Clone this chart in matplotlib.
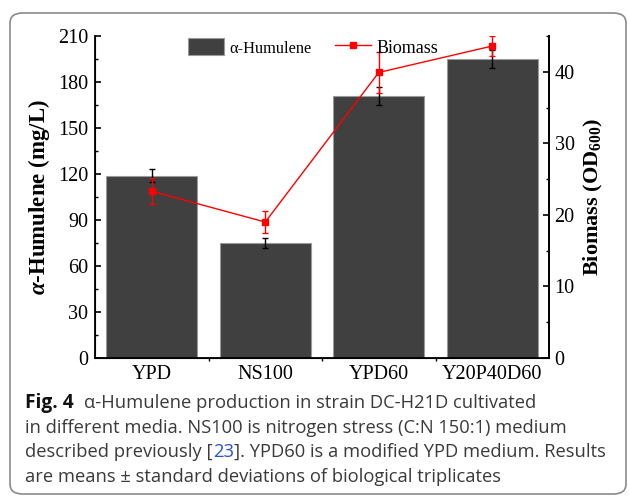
import numpy as np
import matplotlib
matplotlib.use("Agg")
import matplotlib.pyplot as plt
from matplotlib.patches import FancyBboxPatch, Patch
from matplotlib.lines import Line2D

media = ["YPD", "NS100", "YPD60", "Y20P40D60"]
humulene = [119, 75, 171, 195]
humulene_sd = [4.3, 3, 6, 6]
biomass = [23.3, 19.0, 39.9, 43.6]
biomass_sd = [1.8, 1.6, 2.8, 1.4]

serif = "Liberation Serif"
plt.rcParams["mathtext.fontset"] = "custom"
plt.rcParams["mathtext.rm"] = serif
plt.rcParams["mathtext.it"] = serif + ":italic:bold"
plt.rcParams["mathtext.bf"] = serif + ":bold"

W, H = 629, 498
fig = plt.figure(figsize=(W / 100, H / 100), dpi=100)

# rounded frame around figure + caption
frame = FancyBboxPatch((10 / W, 4 / H), 616 / W, 481 / H,
                       boxstyle="round,pad=0,rounding_size=0.02",
                       transform=fig.transFigure, fill=False,
                       edgecolor="#8a8a8a", lw=1.2)
fig.patches.append(frame)

ax = fig.add_axes([95 / W, 1 - 358 / H, 454 / W, 322 / H])
x = np.arange(len(media))
ax.bar(x, humulene, width=0.8, color="#404040", edgecolor="#9a9a9a", lw=0.8, zorder=2)
ax.errorbar(x, humulene, yerr=humulene_sd, fmt="none", ecolor="black",
            elinewidth=1, capsize=2.5, capthick=1, zorder=3)
ax.set_xlim(-0.5, 3.5)
ax.set_ylim(0, 210)
ax.set_yticks(np.arange(0, 211, 30))
ax.set_yticks(np.arange(15, 211, 30), minor=True)
ax.set_xticks(x)
ax.set_xticklabels(media)
ax.set_xticks([0.5, 1.5, 2.5], minor=True)

for lab in ax.get_xticklabels() + ax.get_yticklabels():
    lab.set_family(serif)
    lab.set_fontsize(14.5)
ax.tick_params(axis="y", which="major", direction="in", length=4.5, width=1.2, pad=5)
ax.tick_params(axis="y", which="minor", direction="in", length=2.5, width=1.0)
ax.tick_params(axis="x", which="major", length=0, pad=5)
ax.tick_params(axis="x", which="minor", direction="out", length=2.5, width=1.0)
ax.spines["top"].set_visible(False)
for s in ["left", "bottom", "right"]:
    ax.spines[s].set_linewidth(1.3)
ax.set_ylabel(r"$\alpha$-Humulene (mg/L)", family=serif, fontsize=16.5,
              fontweight="bold", labelpad=4)

ax2 = ax.twinx()
ax2.errorbar(x, biomass, yerr=biomass_sd, color="red", lw=1, marker="s",
             markersize=5, ecolor="red", elinewidth=1, capsize=2.5, capthick=1, zorder=4)
ax2.set_ylim(0, 45)
ax2.set_yticks([0, 10, 20, 30, 40])
ax2.set_yticks([5, 15, 25, 35, 45], minor=True)
ax2.tick_params(axis="y", which="major", direction="in", length=4.5, width=1.2, pad=4)
ax2.tick_params(axis="y", which="minor", direction="in", length=2.5, width=1.0)
for lab in ax2.get_yticklabels():
    lab.set_family(serif)
    lab.set_fontsize(14.5)
ax2.spines["top"].set_visible(False)
ax2.spines["right"].set_linewidth(1.3)
ax2.set_ylabel(r"Biomass (OD$_{\mathbf{600}}$)", family=serif, fontsize=16,
               fontweight="bold", labelpad=5)

handles = [Patch(facecolor="#404040", edgecolor="#9a9a9a", lw=0.8),
           Line2D([0], [0], color="red", lw=1, marker="s", markersize=5)]
leg = ax2.legend(handles, ["α-Humulene", "Biomass"], loc="upper center",
                 bbox_to_anchor=(0.48, 1.045), ncol=2, frameon=False,
                 prop={"family": serif, "size": 13}, handlelength=2.0,
                 handleheight=1.1, handletextpad=0.3, columnspacing=1.3)
leg.get_texts()[0].set_fontsize(11.8)

# caption
cap_font = "Open Sans"
fs = 13.2
def fy(py):
    return 1 - py / H

fig.text(25 / W, fy(403), "Fig. 4", family=cap_font, fontweight="bold",
         fontsize=fs + 0.6, va="center", color="#111111")
fig.text(84 / W, fy(403), "α-Humulene production in strain DC-H21D cultivated",
         family=cap_font, fontsize=fs, va="center", color="#3a3a3a")
fig.text(25 / W, fy(428), "in different media. NS100 is nitrogen stress (C:N 150:1) medium",
         family=cap_font, fontsize=fs, va="center", color="#3a3a3a")
t1 = fig.text(25 / W, fy(452), "described previously [", family=cap_font,
              fontsize=fs, va="center", color="#3a3a3a")
r = fig.canvas.get_renderer()
x1 = t1.get_window_extent(r).x1
t2 = fig.text(x1 / W, fy(452), "23", family=cap_font, fontsize=fs,
              va="center", color="#2a4fd6")
x2 = t2.get_window_extent(r).x1
fig.text(x2 / W, fy(452), "]. YPD60 is a modified YPD medium. Results",
         family=cap_font, fontsize=fs, va="center", color="#3a3a3a")
fig.text(25 / W, fy(477), "are means ± standard deviations of biological triplicates",
         family=cap_font, fontsize=fs, va="center", color="#3a3a3a")

fig.savefig("out.png", dpi=100)
